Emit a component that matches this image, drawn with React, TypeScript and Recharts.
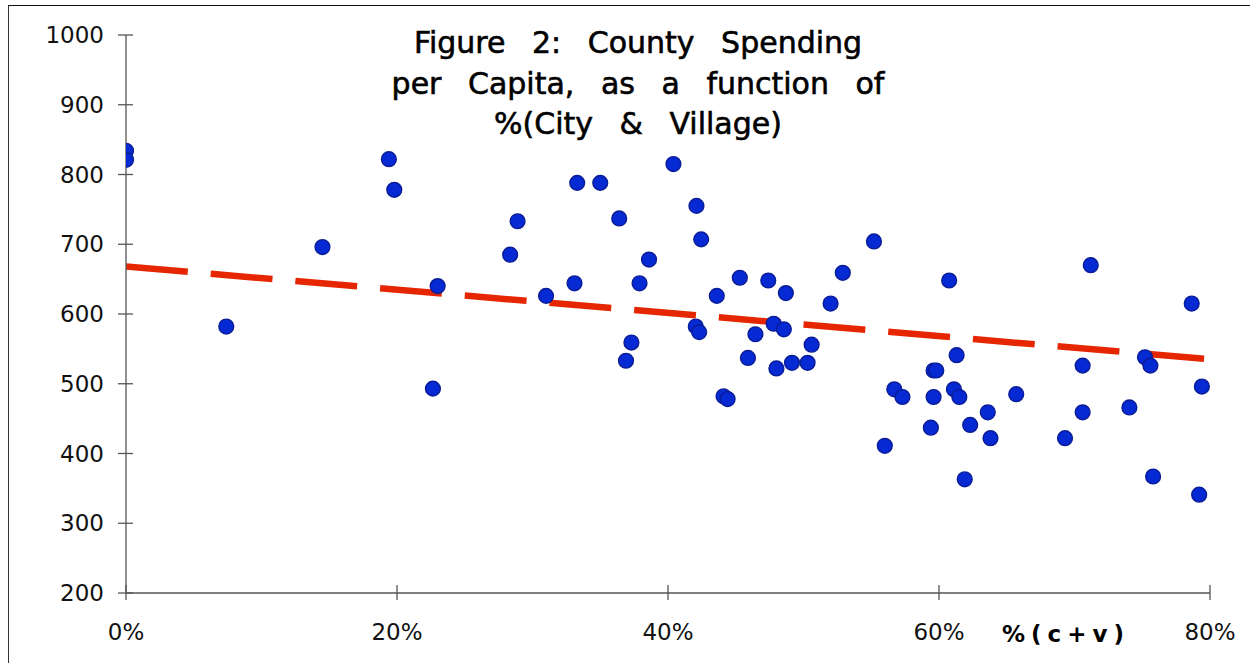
import React from "react";
import { ComposedChart, Scatter, Line, XAxis, YAxis } from "recharts";

const pctCityVillage: number[] = [
  0, 0, 7.4, 14.5, 19.4, 19.8, 22.65, 23.0, 28.35, 28.9, 31.0, 33.1, 33.3, 35.0,
  36.4, 36.9, 37.3, 37.9, 38.6, 40.4, 42.05, 42.3, 42.1, 42.45, 43.6, 44.1, 44.4,
  45.3, 45.9, 46.45, 47.4, 47.8, 48.0, 48.55, 48.7, 49.15, 50.3, 50.6, 52.0, 52.9,
  55.2, 56.0, 56.7, 57.3, 59.4, 59.6, 59.6, 59.8, 60.75, 61.1, 61.3, 61.5, 61.9,
  62.3, 63.6, 63.8, 65.7, 69.3, 70.6, 70.6, 71.2, 74.05, 75.2, 75.6, 75.8, 78.65,
  79.2, 79.4,
];
const spendingPerCapita: number[] = [
  834, 821, 582, 696, 822, 778, 493, 640, 685, 733, 626, 644, 788, 788,
  737, 533, 559, 644, 678, 815, 582, 574, 755, 707, 626, 482, 478,
  652, 537, 571, 648, 586, 522, 578, 630, 530, 530, 556, 615, 659,
  704, 411, 492, 481, 437, 519, 481, 519, 648, 492, 541, 481, 363,
  441, 459, 422, 485, 422, 526, 459, 670, 466, 538, 526, 367, 615,
  341, 496,
];
const trendX: number[] = [0, 80];
const trendY: number[] = [668, 535];
const xTicks: number[] = [0, 20, 40, 60, 80];
const yTicks: number[] = [200, 300, 400, 500, 600, 700, 800, 900, 1000];
const titleLines: string[] = [
  "Figure 2: County Spending",
  "per Capita, as a function of",
  "%(City & Village)",
];
const xAxisTitle = "%(c+v)";

const points = pctCityVillage.map((x, i) => ({ x, y: spendingPerCapita[i] }));
const trend = trendX.map((x, i) => ({ x, t: trendY[i] }));

const FONT = "'DejaVu Sans', sans-serif";

const YTick = (props: any) => {
  const { x, y, payload } = props;
  return (
    <g>
      <line x1={x - 8} x2={x + 7} y1={y} y2={y} stroke="#555" strokeWidth={1.3} />
      <text x={x - 22} y={y} textAnchor="end" dominantBaseline="central" fontFamily={FONT} fontSize={23} fill="#111">
        {payload.value}
      </text>
    </g>
  );
};

const XTick = (props: any) => {
  const { x, y, payload } = props;
  return (
    <g>
      <line x1={x} x2={x} y1={y - 8} y2={y + 7} stroke="#555" strokeWidth={1.3} />
      <text x={x} y={y + 39} textAnchor="middle" dominantBaseline="central" fontFamily={FONT} fontSize={23} fill="#111">
        {`${payload.value}%`}
      </text>
    </g>
  );
};

const Dot = (props: any) => {
  const { cx, cy } = props;
  if (cx == null || cy == null) return null;
  return <circle cx={cx} cy={cy} r={7.4} fill="#0529d2" stroke="#0a1c96" strokeWidth={1.4} />;
};

export default function App() {
  return (
    <div style={{ position: "absolute", left: 0, top: 0, width: 1250, height: 663, background: "#fff" }}>
      <div
        style={{
          position: "absolute",
          left: 8,
          top: 5,
          width: 1250 - 8,
          height: 663 - 5,
          borderTop: "1.5px solid #111",
          borderLeft: "1.5px solid #333",
          boxSizing: "border-box",
        }}
      />
      <div style={{ position: "absolute", left: 0, top: 0 }}>
        <ComposedChart width={1250} height={663} margin={{ top: 35, right: 40, bottom: 0, left: 0 }}>
          <XAxis
            type="number"
            dataKey="x"
            domain={[0, 80]}
            ticks={xTicks}
            allowDataOverflow
            height={70}
            tickSize={0}
            tickMargin={0}
            tickLine={false}
            axisLine={{ stroke: "#555", strokeWidth: 1.3 }}
            tick={<XTick />}
          />
          <YAxis
            type="number"
            domain={[200, 1000]}
            ticks={yTicks}
            allowDataOverflow
            width={126}
            tickSize={0}
            tickMargin={0}
            tickLine={false}
            axisLine={{ stroke: "#555", strokeWidth: 1.3 }}
            tick={<YTick />}
          />
          <Line
            data={trend}
            dataKey="t"
            type="linear"
            stroke="#e62600"
            strokeWidth={6.5}
            strokeDasharray="62 23"
            dot={false}
            activeDot={false}
            isAnimationActive={false}
          />
          <Scatter data={points} dataKey="y" shape={<Dot />} isAnimationActive={false} />
        </ComposedChart>
      </div>
      <svg width={1250} height={663} style={{ position: "absolute", left: 0, top: 0, pointerEvents: "none" }}>
        {titleLines.map((s, i) => (
          <text
            key={i}
            x={638}
            y={53 + i * 40.5}
            textAnchor="middle"
            fontFamily={FONT}
            fontSize={30}
            wordSpacing={17}
            fill="#000"
            stroke="#000"
            strokeWidth={0.6}
          >
            {s}
          </text>
        ))}
        <text x={1066} y={642} textAnchor="middle" fontFamily={FONT} fontSize={23} fontWeight="bold" letterSpacing={6} fill="#000">
          {xAxisTitle}
        </text>
      </svg>
    </div>
  );
}
